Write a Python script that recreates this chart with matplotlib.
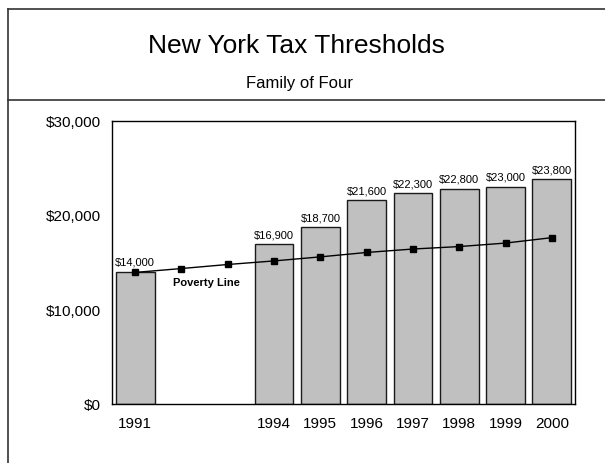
import matplotlib
matplotlib.use("Agg")
import matplotlib.pyplot as plt
from matplotlib.lines import Line2D
from matplotlib.ticker import FuncFormatter

plt.rcParams['font.family'] = ['Liberation Sans', 'DejaVu Sans']

years = ["1991", "1992", "1993", "1994", "1995", "1996", "1997", "1998", "1999", "2000"]
thresholds = [14000, None, None, 16900, 18700, 21600, 22300, 22800, 23000, 23800]
poverty = [13924, 14335, 14763, 15141, 15569, 16036, 16400, 16660, 17029, 17603]
title = "New York Tax Thresholds"
subtitle = "Family of Four"
line_label = "Poverty Line"

W, H = 605, 464
fig = plt.figure(figsize=(W / 100, H / 100), dpi=100)

def fx(px):
    return px / W

def fy(py):
    return 1 - py / H

# outer frame lines
frame_col = "#333333"
fig.add_artist(Line2D([fx(8), fx(8)], [fy(10), fy(470)], color=frame_col, lw=1.2, transform=fig.transFigure))
fig.add_artist(Line2D([fx(8), fx(610)], [fy(10), fy(10)], color=frame_col, lw=1.2, transform=fig.transFigure))
fig.add_artist(Line2D([fx(8), fx(610)], [fy(101), fy(101)], color=frame_col, lw=1.2, transform=fig.transFigure))

fig.text(fx(296), fy(46), title, ha="center", va="center", fontsize=19)
fig.text(fx(300), fy(83.5), subtitle, ha="center", va="center", fontsize=12)

left, right, top, bottom = 112, 575, 121.5, 405
ax = fig.add_axes([fx(left), fy(bottom), fx(right - left), (bottom - top) / H])

xs = list(range(len(years)))
bx = [x for x, v in zip(xs, thresholds) if v is not None]
bv = [v for v in thresholds if v is not None]
ax.bar(bx, bv, width=0.84, color="#C0C0C0", edgecolor="#1a1a1a", linewidth=1.0, zorder=2)
for x, v in zip(bx, bv):
    ax.text(x, v + 500, f"${v:,}", ha="center", va="bottom", fontsize=8, zorder=4)

ax.plot(xs, poverty, color="black", lw=1.0, marker="s", markersize=4.5, zorder=3)
ax.text(1.55, poverty[1] - 900, line_label, ha="center", va="top", fontsize=8, fontweight="bold")

ax.set_xlim(-0.5, len(years) - 0.5)
ax.set_ylim(0, 30000)
ax.set_yticks([0, 10000, 20000, 30000])
ax.yaxis.set_major_formatter(FuncFormatter(lambda v, p: f"${int(v):,}"))
ax.set_xticks(xs)
ax.set_xticklabels([y if t is not None else "" for y, t in zip(years, thresholds)])
ax.tick_params(axis="both", length=0, labelsize=11)
ax.tick_params(axis="x", pad=9)
ax.tick_params(axis="y", pad=8)
for s in ax.spines.values():
    s.set_linewidth(1.0)
    s.set_color("black")

fig.savefig("out.png", dpi=100)
